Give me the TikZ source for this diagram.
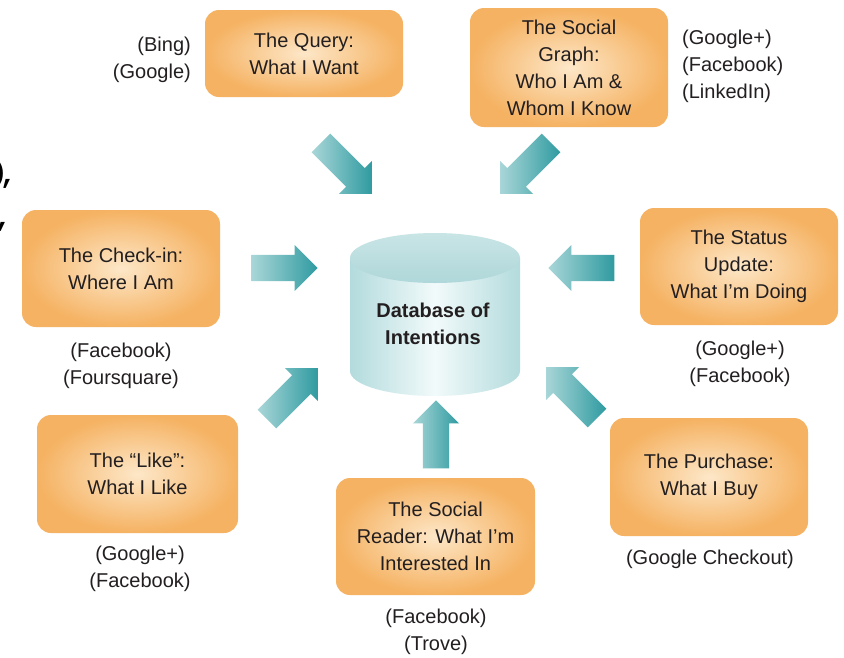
\documentclass[tikz,border=0pt]{standalone}
\usepackage{fontspec}
\setmainfont{Liberation Sans}
\setmonofont{Liberation Mono}
\usetikzlibrary{shapes.arrows}
\definecolor{txt}{HTML}{231F20}
\definecolor{orEdge}{HTML}{F5B262}
\definecolor{orMid}{HTML}{FDE7C8}
\definecolor{tealD}{HTML}{2F9BA0}
\definecolor{tealL}{HTML}{A9D6D8}
\definecolor{cylL}{HTML}{B3DBDD}
\definecolor{cylM}{HTML}{F2FAFA}
\definecolor{cylTopA}{HTML}{C9E5E6}
\definecolor{cylTopB}{HTML}{AFD7D9}
\tikzset{
  box/.style={rectangle, rounded corners=14pt, minimum width=198pt, minimum height=117pt,
    inner color=orMid, outer color=orEdge, text=txt, align=center,
    font=\fontsize{20}{27}\selectfont},
  lbl/.style={text=txt, inner sep=0pt, font=\fontsize{20}{27}\selectfont},
  bigarrow/.style={single arrow, single arrow head extend=10pt, inner xsep=0pt, inner ysep=13pt,
    minimum height=#1, left color=tealL, right color=tealD, draw=none, anchor=tip},
  stray/.style={font=\ttfamily\bfseries\fontsize{28}{28}\selectfont, anchor=base east, inner sep=0pt}
}
\begin{document}
\begin{tikzpicture}[x=1pt,y=-1pt]
\useasboundingbox[fill=white] (0,0) rectangle (844,657);

% stray marks at left edge
\node[stray, font=\bfseries\fontsize{26}{26}\selectfont] (m0) at (4.5,180) {)};
\node[stray] (m1) at (17,183) {,};
\node[stray] (m2) at (12,226) {,};

% database cylinder
\shade[left color=cylL, right color=cylL, middle color=cylM]
  (350,258) -- (350,371) arc[start angle=180, end angle=360, x radius=85, y radius=-25] -- (520,258) -- cycle;
\shade[top color=cylTopA, bottom color=cylTopB] (435,258) ellipse[x radius=85, y radius=25];
\node[text=txt, align=center, font=\bfseries\fontsize{20}{27}\selectfont] (db) at (433,324) {Database of\\Intentions};

% boxes
\node[box, minimum height=87pt] (query) at (304,53.5) {The Query:\\What I Want};
\node[box, minimum height=119pt] (graph) at (569,67.5) {The Social\\Graph:\\Who I Am \&\\Whom I Know};
\node[box] (checkin) at (121,268.5) {The Check-in:\\Where I Am};
\node[box] (status) at (739,266.5) {The Status\\Update:\\What I’m Doing};
\node[box, minimum width=201pt, minimum height=118pt] (like) at (137.5,474) {The “Like”:\\What I Like};
\node[box, minimum width=199pt] (reader) at (435.5,536.5) {The Social\\Reader: What I’m\\Interested In};
\node[box, minimum height=118pt] (purchase) at (709,477) {The Purchase:\\What I Buy};

% labels
\node[lbl, align=right, anchor=east] (lq) at (191,60) {(Bing)\\(Google)};
\node[lbl, align=left, anchor=west] (lg) at (682,66) {(Google+)\\(Facebook)\\(LinkedIn)};
\node[lbl, align=center] (lc) at (121,366) {(Facebook)\\(Foursquare)};
\node[lbl, align=center] (ls) at (740,364) {(Google+)\\(Facebook)};
\node[lbl, align=center] (ll) at (140,569) {(Google+)\\(Facebook)};
\node[lbl, align=center] (lr) at (436,632) {(Facebook)\\(Trove)};
\node[lbl, align=center] (lp) at (710,559) {(Google Checkout)};

% block arrows
\node[bigarrow=72pt, rotate=-45] (aq) at (372,194) {};
\node[bigarrow=72pt, rotate=-135] (ag) at (500,194) {};
\node[bigarrow=66pt, rotate=0] (ac) at (318,268) {};
\node[bigarrow=66pt, rotate=180] (as) at (548,268) {};
\node[bigarrow=72pt, rotate=45] (al) at (318,368) {};
\node[bigarrow=68pt, rotate=90] (ar) at (436,400) {};
\node[bigarrow=72pt, rotate=135] (ap) at (546,367) {};
\end{tikzpicture}
\end{document}
